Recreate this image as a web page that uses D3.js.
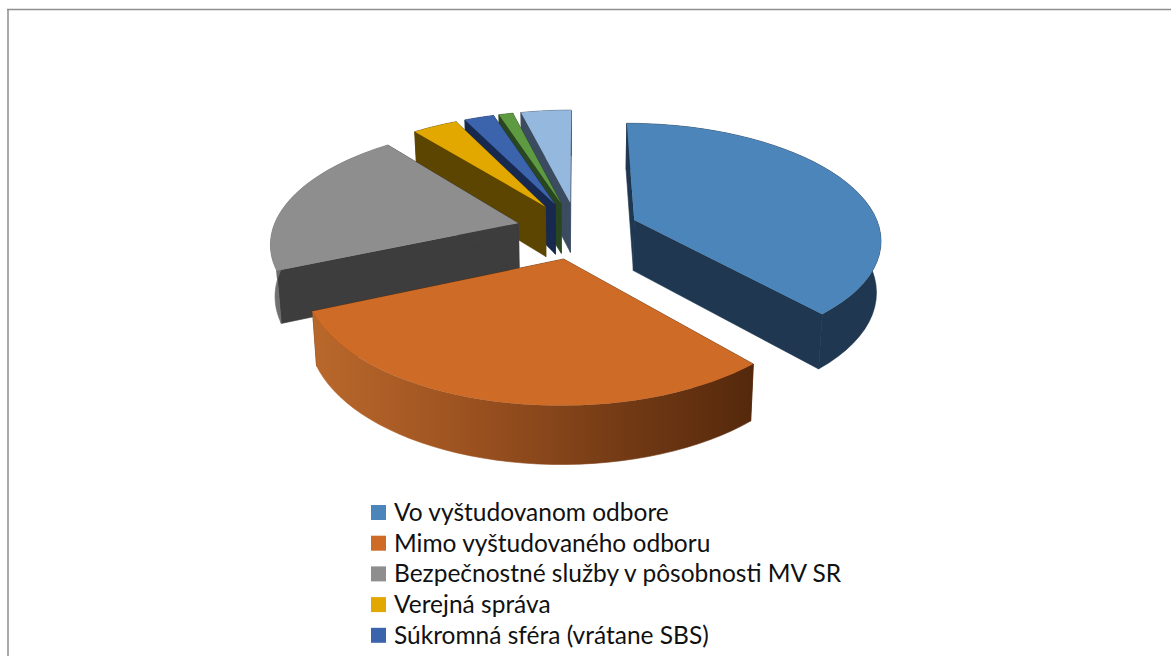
<!DOCTYPE html>
<html>
<head>
<meta charset="utf-8">
<script src="https://cdn.jsdelivr.net/npm/d3@7"></script>
<style>
  html, body { margin: 0; padding: 0; background: #fff; overflow: hidden; }
  text { font-family: Lato, "Open Sans", sans-serif; fill: #111; }
</style>
</head>
<body>
<svg id="chart" width="1171" height="656"></svg>
<script>
// values, in percent
const values = [38.5, 30.0, 20.7, 3.5, 2.3, 1.1, 3.9];
const legendNames = [
  "Vo vyštudovanom odbore",
  "Mimo vyštudovaného odboru",
  "Bezpečnostné služby v pôsobnosti MV SR",
  "Verejná správa",
  "Súkromná sféra (vrátane SBS)"
];
const topColors = ["#4c85ba", "#cd6b27", "#8e8e8e", "#e2a800", "#3b64ad", "#5e9a41", "#95b8df"];
const sideColors = ["#1f3750", "#5a2d0e", "#3d3d3d", "#5c4500", "#18294f", "#2a4620", "#3c4c60"];

const width = 1171;
const height = 656;
const svg = d3.select("#chart");

// frame of the chart object
svg.append("path")
  .attr("d", `M8,${height}V9`)
  .attr("stroke", "#aaaaaa")
  .attr("stroke-width", 2);
svg.append("path")
  .attr("d", `M7,9.5H${width}`)
  .attr("stroke", "#8f8f8f")
  .attr("stroke-width", 1.5);

// perspective projection of the pie plane
const cx = 577.5, cy = 230;
const camDist = 6.55, focalX = 1610, focalY = 749;
const explode = 0.25;

function project(x, y) {
  const s = camDist - y;
  return [cx + focalX * x / s, cy + focalY * y / s];
}
// same point on the lower rim of the pie
function lower(p) {
  const sx = p[0] - cx, sy = p[1] - cy;
  return [cx + sx * 0.985, cy + sy * 1.045 + 51];
}
function polar(a, r, mid) {
  return [
    explode * Math.sin(mid) + r * Math.sin(a),
    -explode * Math.cos(mid) - r * Math.cos(a)
  ];
}

const line = d3.line();
const pie = d3.pie().sort(null).value((d) => d);
const slices = pie(values);

const defs = svg.append("defs");
const grad = defs.append("linearGradient")
  .attr("id", "orangeSide")
  .attr("gradientUnits", "userSpaceOnUse")
  .attr("x1", 315).attr("x2", 750).attr("y1", 0).attr("y2", 0);
grad.append("stop").attr("offset", 0).attr("stop-color", "#b9682b");
grad.append("stop").attr("offset", 0.35).attr("stop-color", "#9c5220");
grad.append("stop").attr("offset", 0.7).attr("stop-color", "#743b15");
grad.append("stop").attr("offset", 1).attr("stop-color", "#55290c");

// back slices first, right to left, then the front ones
const order = [6, 5, 4, 3, 2, 0, 1];
const plot = svg.append("g");

order.forEach((i) => {
  const d = slices[i];
  const mid = (d.startAngle + d.endAngle) / 2;
  const angles = d3.range(0, 41).map((k) => d.startAngle + (d.endAngle - d.startAngle) * k / 40);
  const rim = angles.map((a) => project(...polar(a, 1, mid)));
  const apex = project(...polar(0, 0, mid));
  const g = plot.append("g");
  const side = sideColors[i];

  [rim[0], rim[rim.length - 1]].forEach((edge) => {
    g.append("path")
      .attr("d", line([apex, edge, lower(edge), lower(apex)]) + "Z")
      .attr("fill", side)
      .attr("stroke", side)
      .attr("stroke-width", 0.6);
  });

  const outer = i === 1 ? "url(#orangeSide)" : i === 2 ? "#6f6f6f" : side;
  g.append("path")
    .attr("d", line(rim.concat(rim.map(lower).reverse())) + "Z")
    .attr("fill", outer)
    .attr("stroke", outer)
    .attr("stroke-width", 0.6);

  g.append("path")
    .attr("d", line([apex].concat(rim)) + "Z")
    .attr("fill", topColors[i]);
});

// legend, the last rows fall below the visible area
const legendY = d3.scalePoint()
  .domain(legendNames)
  .range([512.5, 635.3]);

const legend = svg.append("g")
  .selectAll("g")
  .data(legendNames)
  .join("g")
  .attr("transform", (d) => `translate(371, ${legendY(d)})`);

legend.append("rect")
  .attr("y", -7.5)
  .attr("width", 15)
  .attr("height", 15)
  .attr("fill", (d, i) => topColors[i]);

legend.append("text")
  .attr("x", 23)
  .attr("y", 8.5)
  .attr("font-size", 24.5)
  .text((d) => d);
</script>
</body>
</html>
